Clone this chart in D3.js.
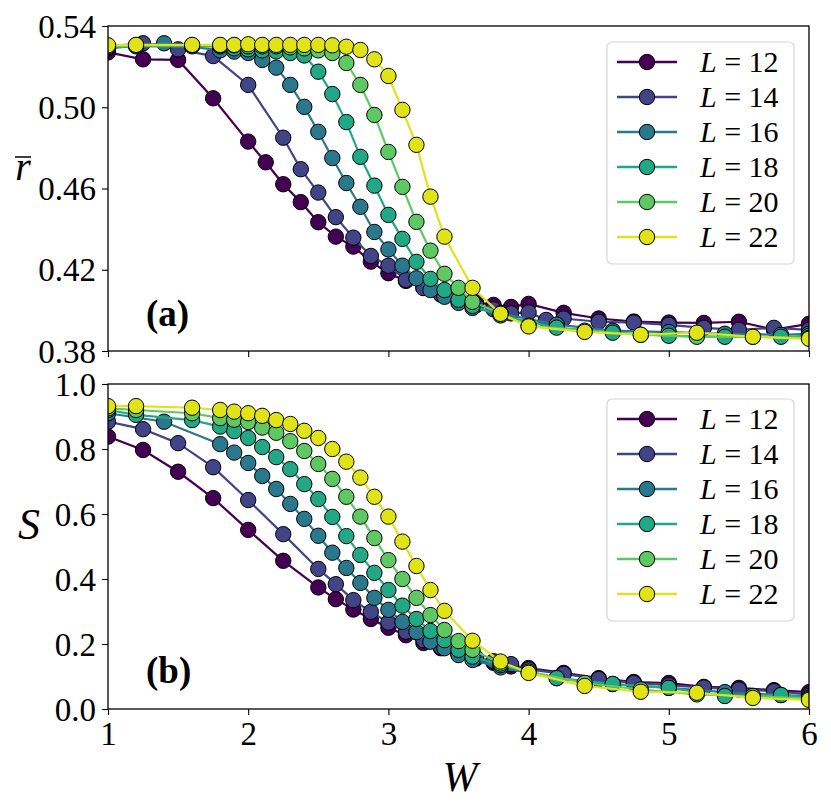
<!DOCTYPE html>
<html lang="en">
<head>
  <meta charset="UTF-8" />
  <title>r and S vs W</title>
  <script src="https://d3js.org/d3.v7.min.js"></script>
  <style>
    body { margin: 0; background: white; }
    svg { display: block; }
    .tick text { font-family: "Liberation Serif", serif; font-size: 33px; fill: #000; }
    .tick line { stroke: #000; stroke-width: 1.1; }
    .domain { display: none; }
  </style>
</head>
<body>
  <svg width="831" height="812"></svg>
  <script>
    // system sizes and colours (viridis-like)
    const sizes = [12, 14, 16, 18, 20, 22];
    const colors = ["#440154", "#414487", "#2a788e", "#22a884", "#5ec962", "#dfe318"];

    // top panel: mean gap ratio r̄ vs disorder W
    const W12top = [1,1.25,1.5,1.75,2,2.125,2.25,2.375,2.5,2.625,2.75,2.875,3,3.125,3.25,3.375,3.5,3.625,3.75,3.875,4,4.25,4.5,4.75,5,5.25,5.5,5.75,6];
    const R12 = [0.527,0.5236,0.5233,0.5044,0.4831,0.4729,0.4621,0.4533,0.4434,0.4363,0.4314,0.4240,0.4183,0.4145,0.4111,0.408,0.4058,0.4040,0.4027,0.4017,0.4032,0.3988,0.3960,0.3945,0.3940,0.3938,0.3944,0.3905,0.3934];
    const W14top = [1,1.25,1.5,1.75,2,2.25,2.375,2.5,2.625,2.75,2.875,3,3.125,3.25,3.375,3.5,3.625,3.75,3.875,4,4.125,4.25,4.5,4.75,5,5.25,5.5,5.75,6];
    const R14 = [0.530,0.5315,0.5285,0.5252,0.511,0.485,0.4695,0.458,0.4459,0.4358,0.4268,0.4220,0.4150,0.4110,0.4077,0.4050,0.4025,0.4005,0.3985,0.3990,0.3953,0.3960,0.3944,0.3940,0.3929,0.3914,0.3904,0.3914,0.3904];
    const W16 = [1,1.4,1.8,1.9,2,2.1,2.2,2.3,2.4,2.5,2.6,2.7,2.8,2.9,3,3.1,3.2,3.3,3.4,3.5,3.6,3.8,4.2,4.6,5,5.4,5.8,6];
    const R16 = [0.529,0.5315,0.528,0.5274,0.5267,0.5233,0.5195,0.5110,0.5002,0.4879,0.475,0.4627,0.451,0.4386,0.430,0.422,0.4158,0.410,0.4067,0.4037,0.4012,0.3985,0.3930,0.3900,0.3893,0.3885,0.3880,0.3885];
    const W18 = [1,1.2,1.6,1.8,1.9,2,2.1,2.2,2.3,2.4,2.5,2.6,2.7,2.8,2.9,3,3.1,3.2,3.3,3.4,3.5,3.6,3.8,4.2,4.6,5,5.4,5.8,6];
    const R18 = [0.5295,0.530,0.530,0.530,0.529,0.5285,0.528,0.5275,0.5267,0.5255,0.5175,0.5065,0.4927,0.4756,0.4614,0.447,0.4352,0.4239,0.4155,0.4100,0.4052,0.4022,0.3975,0.3915,0.3890,0.3875,0.3870,0.3870,0.3875];
    const W20 = [1,1.2,1.6,1.8,1.9,2,2.1,2.2,2.3,2.4,2.5,2.6,2.7,2.8,2.9,3,3.1,3.2,3.3,3.4,3.5,3.6,3.8,4,4.4,4.8,5.2,5.6,6];
    const R20 = [0.530,0.5305,0.5305,0.5305,0.5305,0.530,0.530,0.530,0.5295,0.529,0.528,0.5267,0.5218,0.511,0.4962,0.478,0.4608,0.4436,0.4294,0.418,0.4111,0.4042,0.3985,0.3925,0.3900,0.3880,0.3870,0.3870,0.3865];
    const W22 = [1,1.2,1.6,1.8,1.9,2,2.1,2.2,2.3,2.4,2.5,2.6,2.7,2.8,2.9,3,3.1,3.2,3.3,3.4,3.6,3.8,4,4.4,4.8,5.2,5.6,6];
    const R22 = [0.5305,0.5307,0.5307,0.5307,0.5307,0.531,0.5307,0.5307,0.5307,0.5307,0.5307,0.5305,0.5298,0.5282,0.5236,0.5154,0.4987,0.4815,0.456,0.4363,0.4111,0.3983,0.3921,0.3894,0.388,0.389,0.387,0.386];

    // bottom panel: S vs W
    const W12bot = [1,1.25,1.5,1.75,2,2.25,2.5,2.625,2.75,2.875,3,3.125,3.25,3.375,3.5,3.625,3.75,3.875,4,4.25,4.5,4.75,5,5.25,5.5,5.75,6];
    const S12 = [0.838,0.797,0.730,0.649,0.551,0.456,0.374,0.338,0.306,0.277,0.250,0.227,0.203,0.187,0.170,0.155,0.142,0.131,0.126,0.111,0.095,0.083,0.080,0.068,0.065,0.058,0.052];
    const W14bot = [1,1.25,1.5,1.75,2,2.25,2.5,2.625,2.75,2.875,3,3.125,3.25,3.375,3.5,3.625,3.75,3.875,4,4.25,4.5,4.75,5,5.25,5.5,5.75,6];
    const S14 = [0.884,0.861,0.818,0.744,0.643,0.538,0.431,0.384,0.335,0.299,0.266,0.238,0.212,0.190,0.172,0.158,0.147,0.138,0.122,0.108,0.092,0.080,0.073,0.066,0.060,0.055,0.045];
    const S16 = [0.910,0.884,0.815,0.789,0.757,0.717,0.677,0.631,0.585,0.533,0.481,0.434,0.388,0.342,0.305,0.268,0.237,0.207,0.187,0.166,0.151,0.128,0.095,0.077,0.065,0.052,0.043,0.040];
    const S18 = [0.920,0.905,0.889,0.869,0.855,0.834,0.806,0.775,0.738,0.692,0.646,0.591,0.532,0.474,0.419,0.366,0.318,0.277,0.240,0.212,0.182,0.161,0.135,0.095,0.077,0.065,0.040,0.043,0.035];
    const S20 = [0.925,0.920,0.910,0.895,0.890,0.883,0.866,0.850,0.824,0.794,0.754,0.708,0.653,0.592,0.526,0.458,0.400,0.342,0.289,0.243,0.209,0.182,0.140,0.115,0.080,0.060,0.045,0.040,0.032];
    const S22 = [0.932,0.932,0.927,0.920,0.915,0.910,0.902,0.889,0.877,0.856,0.834,0.800,0.761,0.712,0.653,0.592,0.515,0.440,0.366,0.302,0.210,0.146,0.111,0.071,0.053,0.050,0.034,0.028];

    const xTicks = [1, 2, 3, 4, 5, 6];
    const rTicks = [0.38, 0.42, 0.46, 0.50, 0.54];
    const sTicks = [0.0, 0.2, 0.4, 0.6, 0.8, 1.0];

    const zip = (ws, vs) => ws.map((w, i) => ({ w: w, v: vs[i] }));
    const topSeries = [zip(W12top, R12), zip(W14top, R14), zip(W16, R16), zip(W18, R18), zip(W20, R20), zip(W22, R22)];
    const botSeries = [zip(W12bot, S12), zip(W14bot, S14), zip(W16, S16), zip(W18, S18), zip(W20, S20), zip(W22, S22)];

    const svg = d3.select("svg");
    const left = 108, right = 809;
    const x = d3.scaleLinear().domain([1, 6]).range([left, right]);

    function panel(id, top, bottom, yDomain, yTicks, fmt, series, showX) {
      const y = d3.scaleLinear().domain(yDomain).range([bottom, top]);
      const g = svg.append("g");

      svg.append("clipPath").attr("id", id)
        .append("rect").attr("x", left).attr("y", top)
        .attr("width", right - left).attr("height", bottom - top);

      // series: line first, markers on top, later sizes drawn over earlier ones
      const plot = g.append("g").attr("clip-path", `url(#${id})`);
      const line = d3.line().x(d => x(d.w)).y(d => y(d.v));
      series.forEach((s, i) => {
        const sg = plot.append("g");
        sg.append("path").datum(s)
          .attr("d", line).attr("fill", "none")
          .attr("stroke", colors[i]).attr("stroke-width", 2.2);
        sg.selectAll("circle").data(s).enter().append("circle")
          .attr("cx", d => x(d.w)).attr("cy", d => y(d.v)).attr("r", 7.7)
          .attr("fill", colors[i]).attr("stroke", "#000").attr("stroke-width", 1);
      });

      // axes
      g.append("g").attr("transform", `translate(${left},0)`)
        .call(d3.axisLeft(y).tickValues(yTicks).tickFormat(d3.format(fmt)).tickSize(6).tickPadding(6))
        .selectAll("text").attr("dy", "0.34em");
      const xa = g.append("g").attr("transform", `translate(0,${bottom})`)
        .call(d3.axisBottom(x).tickValues(xTicks).tickSize(6).tickPadding(6)
          .tickFormat(showX ? d3.format("d") : ""));
      xa.selectAll("text").attr("dy", "0.72em");

      g.append("rect").attr("x", left).attr("y", top)
        .attr("width", right - left).attr("height", bottom - top)
        .attr("fill", "none").attr("stroke", "#000").attr("stroke-width", 1.3);
      return g;
    }

    function legend(g, x0, y0) {
      const lg = g.append("g").attr("transform", `translate(${x0},${y0})`);
      lg.append("rect").attr("width", 187).attr("height", 222).attr("rx", 5)
        .attr("fill", "white").attr("fill-opacity", 0.8)
        .attr("stroke", "#d6d6d6").attr("stroke-width", 1.2);
      sizes.forEach((L, i) => {
        const yy = 20 + i * 35;
        lg.append("line").attr("x1", 10).attr("x2", 70).attr("y1", yy).attr("y2", yy)
          .attr("stroke", colors[i]).attr("stroke-width", 2.4);
        lg.append("circle").attr("cx", 40).attr("cy", yy).attr("r", 7.7)
          .attr("fill", colors[i]).attr("stroke", "#000").attr("stroke-width", 1);
        const t = lg.append("text").attr("x", 93).attr("y", yy + 10)
          .attr("font-family", "Liberation Serif, serif").attr("font-size", 30);
        t.append("tspan").attr("font-style", "italic").text("L");
        t.append("tspan").text(" = " + L);
      });
    }

    const gTop = panel("clipTop", 26, 351, [0.38, 0.54], rTicks, ".2f", topSeries, false);
    const gBot = panel("clipBot", 384, 709, [0, 1], sTicks, ".1f", botSeries, true);
    legend(gTop, 607, 42);
    legend(gBot, 607, 399);

    // panel tags
    svg.append("text").attr("x", 146).attr("y", 326)
      .attr("font-family", "Liberation Serif, serif").attr("font-weight", "bold").attr("font-size", 37)
      .text("(a)");
    svg.append("text").attr("x", 146).attr("y", 683)
      .attr("font-family", "Liberation Serif, serif").attr("font-weight", "bold").attr("font-size", 37)
      .text("(b)");

    // axis labels
    svg.append("text").attr("x", 23).attr("y", 180).attr("text-anchor", "middle")
      .attr("font-family", "Liberation Serif, serif").attr("font-style", "italic").attr("font-size", 40)
      .text("r");
    svg.append("line").attr("x1", 15).attr("x2", 31).attr("y1", 157).attr("y2", 157)
      .attr("stroke", "#000").attr("stroke-width", 1.5);
    svg.append("text").attr("x", 29).attr("y", 539).attr("text-anchor", "middle")
      .attr("font-family", "Liberation Serif, serif").attr("font-style", "italic").attr("font-size", 44)
      .text("S");
    svg.append("text").attr("x", 460).attr("y", 791).attr("text-anchor", "middle")
      .attr("font-family", "Liberation Serif, serif").attr("font-style", "italic").attr("font-size", 42)
      .text("W");
  </script>
</body>
</html>
